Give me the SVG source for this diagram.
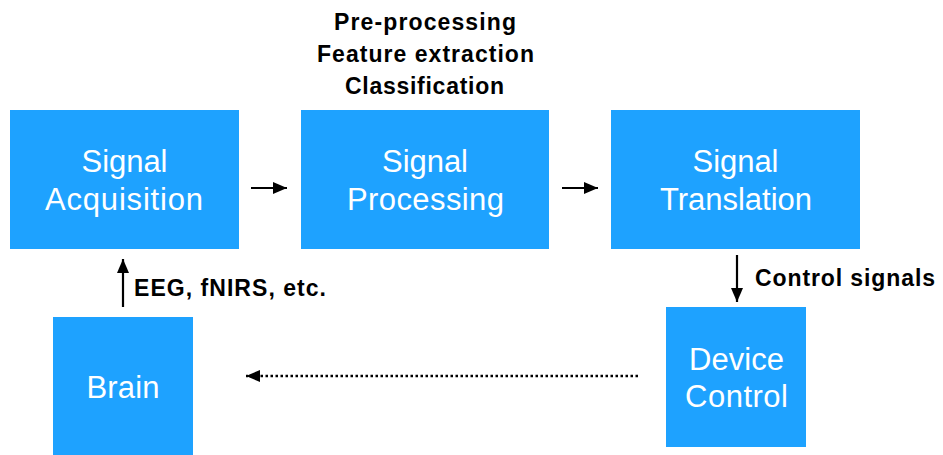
<svg xmlns="http://www.w3.org/2000/svg" width="943" height="455" viewBox="0 0 943 455">
<defs>
<style>
.box{fill:#1ea2ff}
.t{font-family:"Liberation Sans",Arial,sans-serif;font-size:31px;fill:#fff;text-anchor:middle}
.lb{font-family:"Liberation Sans",Arial,sans-serif;font-size:23px;font-weight:bold;fill:#000}
.c{stroke:#000;stroke-width:2.2;fill:none}
.d{stroke:#000;stroke-width:2.5;fill:none;stroke-dasharray:2.5 2.5}
</style>
<marker id="ah" markerWidth="14" markerHeight="12" refX="14" refY="6" orient="auto" markerUnits="userSpaceOnUse">
<path d="M0,0 L14,6 L0,12 Z" fill="#000"/>
</marker>
</defs>
<rect width="943" height="455" fill="#fff"/>
<g id="acq"><rect class="box" x="10" y="110" width="229" height="139"/><text class="t" x="124.5" y="172" textLength="86" lengthAdjust="spacing">Signal</text><text class="t" x="124" y="210" textLength="158" lengthAdjust="spacing">Acquisition</text></g>
<g id="proc"><rect class="box" x="301" y="110" width="248" height="139"/><text class="t" x="425" y="172" textLength="86" lengthAdjust="spacing">Signal</text><text class="t" x="425.5" y="210" textLength="157" lengthAdjust="spacing">Processing</text></g>
<g id="trans"><rect class="box" x="611" y="110" width="249" height="139"/><text class="t" x="735.5" y="172" textLength="86" lengthAdjust="spacing">Signal</text><text class="t" x="736" y="210" textLength="152" lengthAdjust="spacing">Translation</text></g>
<g id="brain"><rect class="box" x="53" y="317" width="140" height="138"/><text class="t" x="123" y="398" textLength="73" lengthAdjust="spacing">Brain</text></g>
<g id="device"><rect class="box" x="666" y="307" width="140" height="140"/><text class="t" x="736.5" y="370" textLength="95" lengthAdjust="spacing">Device</text><text class="t" x="736.5" y="407" textLength="103" lengthAdjust="spacing">Control</text></g>
<g id="labels">
<text class="lb" x="425" y="30" text-anchor="middle" textLength="182" lengthAdjust="spacing">Pre-processing</text>
<text class="lb" x="425.5" y="62" text-anchor="middle" textLength="217" lengthAdjust="spacing">Feature extraction</text>
<text class="lb" x="424.5" y="94" text-anchor="middle" textLength="159" lengthAdjust="spacing">Classification</text>
<text class="lb" x="134" y="296" textLength="192" lengthAdjust="spacing">EEG, fNIRS, etc.</text>
<text class="lb" x="755" y="286" textLength="180" lengthAdjust="spacing">Control signals</text>
</g>
<g id="connectors">
<line class="c" x1="251" y1="188" x2="287" y2="188" marker-end="url(#ah)"/>
<line class="c" x1="562" y1="188" x2="598" y2="188" marker-end="url(#ah)"/>
<line class="c" x1="123" y1="307" x2="123" y2="259" marker-end="url(#ah)"/>
<line class="c" x1="737" y1="255" x2="737" y2="302" marker-end="url(#ah)"/>
<line class="d" x1="638" y1="376" x2="246" y2="376" marker-end="url(#ah)"/>
</g>
</svg>
